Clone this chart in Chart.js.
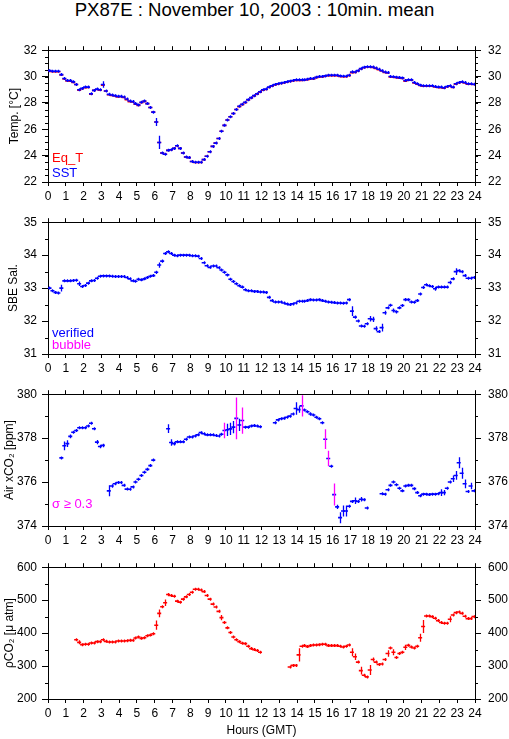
<!DOCTYPE html>
<html>
<head>
<meta charset="utf-8">
<script src="https://cdn.jsdelivr.net/npm/chart.js@4.4.1/dist/chart.umd.min.js"></script>
<style>
  body { margin: 0; background: #fff; width: 509px; height: 739px; position: relative; overflow: hidden;
         font-family: "Liberation Sans", Arial, sans-serif; }
  #title { position: absolute; top: -2px; left: 0; width: 509px; text-align: center; font-size: 18.6px; line-height: 24px; }
  .panel { position: absolute; left: 0; width: 509px; }
</style>
</head>
<body>
<div id="title">PX87E : November 10, 2003 : 10min. mean</div>
<div class="panel" style="top:36px;height:170px"><canvas id="cTemp"></canvas></div>
<div class="panel" style="top:208px;height:170px"><canvas id="cSal"></canvas></div>
<div class="panel" style="top:380px;height:170px"><canvas id="cAir"></canvas></div>
<div class="panel" style="top:553px;height:186px"><canvas id="cPco2"></canvas></div>
<script>
// ── 10-minute means, one row = 2 hours (12 values) ────────────────────────────
const PER_HOUR = 6;

const sst = [
  30.45,30.4,30.4,30.4,30.15,29.85,   29.7,29.7,29.6,29.4,29.0,29.1,
  29.2,29.2,28.7,28.95,29.05,29.0,    29.4,28.9,28.65,28.6,28.55,28.5,
  28.5,28.45,28.3,28.15,28.1,27.95,   27.85,28.05,28.15,27.95,27.65,27.3,
  26.55,25.0,24.2,24.1,24.4,24.45,    24.55,24.75,24.55,24.2,23.9,23.85,
  23.55,23.5,23.5,23.5,23.7,23.95,    24.3,24.7,24.95,25.3,25.85,26.3,
  26.7,26.95,27.2,27.5,27.75,27.9,    28.05,28.25,28.4,28.55,28.7,28.85,
  29.0,29.05,29.2,29.3,29.4,29.45,    29.5,29.55,29.6,29.65,29.7,29.75,
  29.75,29.75,29.75,29.8,29.85,29.85, 29.95,30.0,30.0,30.05,30.1,30.1,
  30.1,30.1,30.05,30.02,30.02,30.1,   30.35,30.35,30.45,30.6,30.7,30.75,
  30.75,30.72,30.65,30.55,30.45,30.35, 30.3,30.0,29.98,29.95,29.92,29.9,
  29.7,29.75,29.75,29.55,29.45,29.35, 29.3,29.3,29.3,29.3,29.25,29.2,
  29.2,29.15,29.25,29.3,29.2,29.45,   29.55,29.6,29.55,29.45,29.45,29.42
];
const eqT = [
  30.42,30.37,30.37,30.37,30.12,29.82, 29.67,29.65,29.55,29.4,28.97,29.07,
  29.15,29.17,28.67,28.95,29.02,28.97, 29.35,28.9,28.62,28.57,28.52,28.45,
  28.47,28.42,28.25,28.1,28.07,27.9,   27.8,28.02,28.12,27.95,27.65,27.3,
  26.55,25.0,24.2,24.1,24.4,24.45,     24.55,24.75,24.55,24.2,23.9,23.85,
  23.55,23.48,23.48,23.48,23.7,23.95,  24.3,24.7,24.95,25.3,25.85,26.3,
  26.7,26.95,27.2,27.5,27.72,27.87,    28.02,28.22,28.37,28.52,28.67,28.82,
  28.97,29.02,29.17,29.27,29.37,29.42, 29.47,29.52,29.57,29.62,29.67,29.7,
  29.7,29.7,29.72,29.77,29.82,29.82,   29.92,29.97,29.97,30.02,30.07,30.07,
  30.07,30.07,30.0,29.98,29.98,30.07,  30.3,30.32,30.42,30.57,30.67,30.72,
  30.72,30.7,30.62,30.52,30.42,30.32,  30.27,29.97,29.95,29.92,29.88,29.85,
  29.65,29.72,29.72,29.52,29.42,29.32, 29.27,29.27,29.27,29.27,29.22,29.17,
  29.15,29.12,29.22,29.27,29.17,29.42, 29.52,29.57,29.52,29.42,29.42,29.4
];
const sal = [
  33.0,32.92,32.87,32.85,33.0,33.22,   33.22,33.22,33.23,33.24,33.13,33.05,
  33.08,33.15,33.22,33.23,33.3,33.36,  33.37,33.37,33.37,33.36,33.35,33.35,
  33.35,33.35,33.32,33.28,33.22,33.21, 33.27,33.25,33.28,33.32,33.36,33.38,
  33.48,33.7,33.82,34.05,34.1,34.05,   34.0,33.98,34.0,34.0,34.0,34.0,
  33.98,33.98,33.97,33.9,33.77,33.68,  33.63,33.67,33.67,33.62,33.55,33.48,
  33.4,33.27,33.2,33.13,33.07,33.03,   32.95,32.92,32.92,32.9,32.9,32.88,
  32.88,32.87,32.72,32.62,32.58,32.58, 32.58,32.55,32.52,32.5,32.52,32.55,
  32.6,32.6,32.6,32.62,32.65,32.64,    32.64,32.65,32.62,32.6,32.58,32.57,
  32.56,32.55,32.55,32.54,32.55,32.65, 32.3,32.12,32.0,31.85,31.84,31.92,
  32.07,32.05,31.77,31.68,31.8,32.25,  32.4,32.48,32.32,32.28,32.4,32.47,
  32.65,32.65,32.58,32.57,32.62,32.82, 33.02,33.1,33.07,33.05,32.98,33.03,
  33.03,33.03,33.03,33.17,33.28,33.5,  33.53,33.5,33.38,33.3,33.3,33.32
];
const airCO2 = [
  null,null,null,null,377.1,377.65,          377.75,378.08,378.27,378.35,378.47,378.47,
  378.47,378.55,378.68,378.43,377.82,377.62, 377.67,null,375.6,375.82,375.92,375.98,
  375.98,375.85,375.68,375.67,375.78,376.0,  376.13,376.3,376.45,376.58,376.75,377.0,
  null,null,null,null,378.43,377.8,          377.75,377.83,377.83,377.83,377.95,378.05,
  378.05,378.1,378.15,378.25,378.2,378.15,   378.15,378.15,378.12,378.1,378.18,378.35,
  378.38,378.42,378.5,378.9,378.6,378.8,     378.5,378.5,378.55,378.57,378.55,378.52,
  null,null,null,null,378.7,378.83,          378.88,378.9,378.95,379.0,379.1,379.35,
  379.3,379.47,379.28,379.2,379.1,379.05,    378.95,378.88,378.7,377.95,377.07,376.72,
  375.43,374.87,374.38,374.68,374.68,374.9,  375.12,375.15,375.12,375.22,375.2,374.82,
  null,null,null,null,375.47,375.45,         375.65,375.85,376.0,375.88,375.72,375.6,
  375.82,375.85,375.85,375.7,375.52,375.38,  375.45,375.45,375.43,375.45,375.45,375.47,
  375.52,375.52,375.72,376.0,376.15,376.3,   376.88,376.4,375.92,375.57,375.82,375.6
];
const pCO2 = [
  null,null,null,null,null,null,  null,null,null,380,372,365,
  366,366,370,370,374,374,        380,375,373,373,373,376,
  376,376,377,378,378,385,        388,384,386,392,394,398,
  424,460,480,492,517,514,        512,497,494,503,510,517,
  524,533,533,531,526,514,        503,488,479,466,447,432,
  416,402,388,380,374,369,        368,360,353,350,347,342,
  null,null,null,null,null,null,  null,null,null,297,302,302,
  334,360,362,359,362,364,        364,365,366,366,362,362,
  362,362,360,358,360,364,        342,328,312,286,272,267,
  288,320,312,305,306,320,        338,355,342,326,338,342,
  357,363,358,355,360,386,        420,452,452,450,445,438,
  432,430,430,442,455,462,        464,460,451,444,444,450
];

// standard deviations worth showing, as [sample index, sigma]
const sstSigma  = [[4,0.08],[10,0.08],[14,0.06],[18,0.25],[36,0.3],[37,0.5],[38,0.1],[53,0.08],[54,0.08],
                   [55,0.08],[56,0.08],[57,0.08],[58,0.1],[59,0.1],[102,0.12],[136,0.1]];
const salSigma  = [[4,0.1],[10,0.07],[36,0.05],[37,0.08],[38,0.05],[102,0.15],[103,0.05],[108,0.08],[109,0.08],
                   [110,0.07],[112,0.12],[113,0.06],[116,0.06],[117,0.05],[120,0.05],[126,0.05],[130,0.06],[135,0.05],[137,0.1]];
const airSigma  = [[5,0.2],[6,0.15],[7,0.08],[16,0.1],[17,0.08],[18,0.08],[20,0.25],[21,0.08],[40,0.2],[41,0.15],
                   [42,0.08],[59,0.35],[60,0.28],[61,0.28],[62,0.28],[63,0.95],[64,0.28],[65,0.6],[83,0.28],[84,0.15],
                   [85,0.48],[88,0.08],[93,0.45],[94,0.35],[96,0.5],[97,0.1],[98,0.25],[99,0.25],[100,0.25],[103,0.15],
                   [105,0.1],[132,0.15],[133,0.12],[136,0.15],[137,0.2],[138,0.25],[139,0.25],[140,0.2],[142,0.15]];
const pco2Sigma = [[10,6],[18,4],[36,14],[37,12],[39,10],[40,5],[58,8],[84,20],[102,12],[103,10],[105,12],[108,15],
                   [109,6],[114,10],[116,9],[120,8],[125,12],[126,20],[135,9]];
const SIGMA_FLAG = 0.3;   // air xCO2 std >= 0.3 shown in magenta

const HOUR_TICKS = { min: 0, max: 24, step: 1 };

// ── Colours ───────────────────────────────────────────────────────────────────
const RED = "#ff0000", BLUE = "#0000ff", MAGENTA = "#ff00ff";

Chart.defaults.font.family = '"Liberation Sans", Arial, sans-serif';
Chart.defaults.color = "#000";

// ── Plugins ───────────────────────────────────────────────────────────────────
// vertical std bars through each 10-min mark
const errorBars = {
  id: "errorBars",
  afterDatasetsDraw(chart) {
    const { ctx, chartArea: a, scales: { y } } = chart;
    ctx.save();
    ctx.beginPath(); ctx.rect(a.left, a.top, a.right - a.left, a.bottom - a.top); ctx.clip();
    ctx.lineWidth = 1.3;
    chart.data.datasets.forEach((ds, di) => {
      if (!ds.sigma) return;
      chart.getDatasetMeta(di).data.forEach((pt, j) => {
        const raw = ds.data[j];
        const s = ds.sigma[raw.i] || 0;
        const half = Math.max(1.5, Math.abs(y.getPixelForValue(raw.y + s) - pt.y));
        const px = Math.round(pt.x) + 0.5;
        ctx.strokeStyle = s >= (ds.flagAt ?? Infinity) ? MAGENTA : ds.pointBorderColor;
        ctx.beginPath(); ctx.moveTo(px, pt.y - half); ctx.lineTo(px, pt.y + half); ctx.stroke();
      });
    });
    ctx.restore();
  }
};

// short minor ticks on both y axes
const minorTicks = {
  id: "minorTicks",
  afterDraw(chart, args, o) {
    const { ctx, chartArea: a, scales: { y } } = chart;
    ctx.save();
    ctx.strokeStyle = "#000"; ctx.lineWidth = 1;
    for (let v = y.min; v <= y.max + 1e-9; v += o.step) {
      const py = Math.round(y.getPixelForValue(v)) + 0.5;
      ctx.beginPath();
      ctx.moveTo(a.left - 3, py); ctx.lineTo(a.left, py);
      ctx.moveTo(a.right, py); ctx.lineTo(a.right + 3, py);
      ctx.stroke();
    }
    ctx.restore();
  }
};

// coloured key text in the lower-left corner of a panel
const NOTES = {
  cTemp: [{ text: "Eq_T", color: RED, up: 20 }, { text: "SST", color: BLUE, up: 5 }],
  cSal:  [{ text: "verified", color: BLUE, up: 17 }, { text: "bubble", color: MAGENTA, up: 5 }],
  cAir:  [{ text: "σ ≥ 0.3", color: MAGENTA, up: 18 }],
};
const notes = {
  id: "notes",
  afterDraw(chart) {
    const items = NOTES[chart.canvas.id];
    if (!items) return;
    const { ctx, chartArea: a } = chart;
    ctx.save();
    ctx.font = '13px "Liberation Sans", Arial, sans-serif';
    ctx.textAlign = "left"; ctx.textBaseline = "alphabetic";
    items.forEach(n => { ctx.fillStyle = n.color; ctx.fillText(n.text, a.left + 4, a.bottom - n.up); });
    ctx.restore();
  }
};

// ── Helpers ───────────────────────────────────────────────────────────────────
function toPoints(values) {
  return values
    .map((v, i) => ({ x: (i + 0.5) / PER_HOUR, y: v, i }))
    .filter(p => p.y !== null);
}

function series(values, color, sigmaPairs, flagAt) {
  return {
    data: toPoints(values),
    showLine: false,
    pointStyle: "line",
    pointRadius: 2,
    pointBorderWidth: 1.6,
    pointBorderColor: color,
    pointBackgroundColor: color,
    sigma: sigmaPairs ? Object.fromEntries(sigmaPairs) : null,
    flagAt,
  };
}

function axisCommon() {
  return {
    grid: { drawOnChartArea: false, color: "#000", tickColor: "#000", tickWidth: 1 },
    border: { display: true, color: "#000", width: 1 },
  };
}

function panel(id, { datasets, min, max, major, minor, label, labelPad, xTitle }) {
  const c = axisCommon();
  const yTicks = { stepSize: major, color: "#000", font: { size: 12 } };
  return new Chart(document.getElementById(id), {
    type: "scatter",
    data: { datasets },
    options: {
      responsive: true, maintainAspectRatio: false, animation: false, events: [],
      layout: { padding: 0 },
      plugins: { legend: { display: false }, tooltip: { enabled: false }, minorTicks: { step: minor } },
      scales: {
        x: {
          type: "linear", position: "bottom", min: HOUR_TICKS.min, max: HOUR_TICKS.max,
          afterFit: s => { s.height = xTitle ? 40 : 24; },
          ticks: { stepSize: HOUR_TICKS.step, autoSkip: false, maxRotation: 0, padding: 3, color: "#000", font: { size: 12 } },
          grid: { ...c.grid, tickLength: 4 }, border: c.border,
          title: xTitle ? { display: true, text: xTitle, color: "#000", font: { size: 12 }, padding: { top: 0, bottom: 1 } }
                        : { display: false },
        },
        x2: {
          type: "linear", position: "top", min: HOUR_TICKS.min, max: HOUR_TICKS.max,
          afterFit: s => { s.height = 8; },
          ticks: { display: false, stepSize: HOUR_TICKS.step, autoSkip: false },
          grid: { ...c.grid, tickLength: 4 }, border: c.border,
        },
        y: {
          type: "linear", position: "left", min, max,
          afterFit: s => { s.width = 48; },
          ticks: { ...yTicks, padding: 5 },
          grid: { ...c.grid, tickLength: 6 }, border: c.border,
          title: { display: true, text: label, color: "#000", font: { size: 12 }, padding: { top: labelPad, bottom: 0 } },
        },
        y2: {
          type: "linear", position: "right", min, max,
          afterFit: s => { s.width = 34; },
          ticks: { ...yTicks, padding: 7 },
          grid: { ...c.grid, tickLength: 6 }, border: c.border,
        },
      },
    },
    plugins: [errorBars, minorTicks, notes],
  });
}

// ── Panels ────────────────────────────────────────────────────────────────────
panel("cTemp", {
  datasets: [series(sst, BLUE, sstSigma), series(eqT, RED, null)],
  min: 22, max: 32, major: 2, minor: 0.5, label: "Temp. [°C]", labelPad: 7,
});
panel("cSal", {
  datasets: [series(sal, BLUE, salSigma)],
  min: 31, max: 35, major: 1, minor: 0.5, label: "SBE Sal.", labelPad: 6,
});
panel("cAir", {
  datasets: [series(airCO2, BLUE, airSigma, SIGMA_FLAG)],
  min: 374, max: 380, major: 2, minor: 1, label: "Air xCO₂ [ppm]", labelPad: 2,
});
panel("cPco2", {
  datasets: [series(pCO2, RED, pco2Sigma)],
  min: 200, max: 600, major: 100, minor: 50, label: "ρCO₂ [μ atm]", labelPad: 2.5, xTitle: "Hours (GMT)",
});
</script>
</body>
</html>
